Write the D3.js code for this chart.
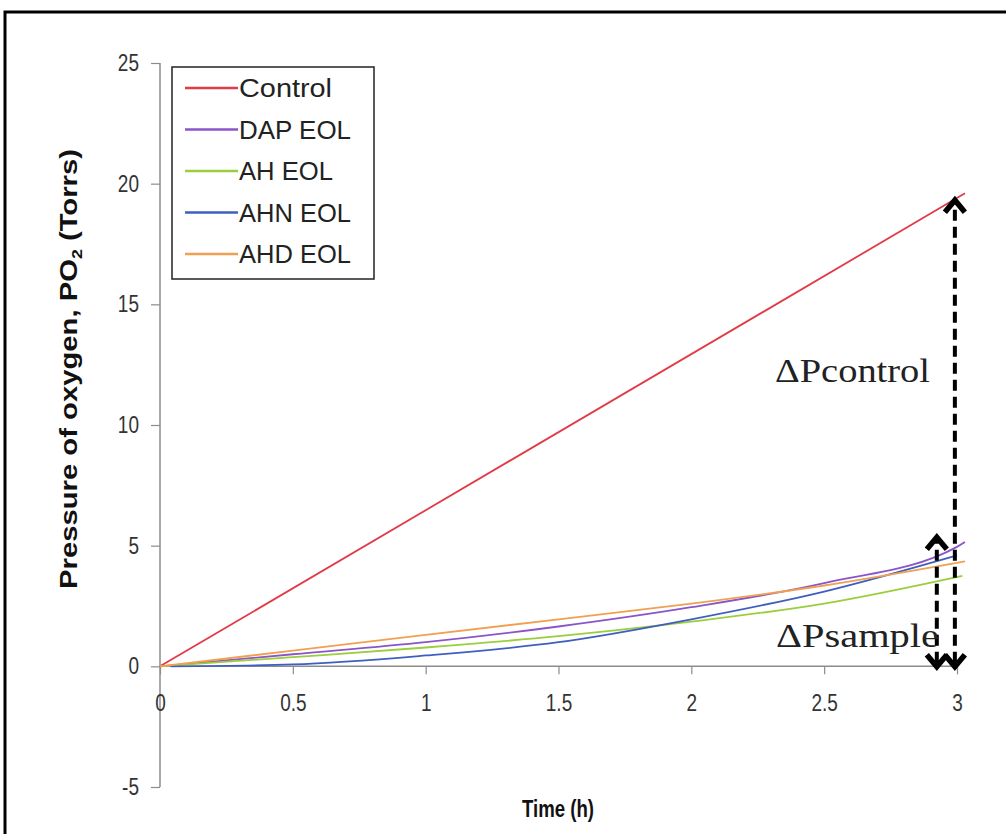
<!DOCTYPE html>
<html><head><meta charset="utf-8">
<script src="https://cdn.jsdelivr.net/npm/d3@7"></script>
<style>body{margin:0;background:#fff}svg{display:block}</style>
</head><body>
<script>
const seriesNames = ["Control","DAP EOL","AH EOL","AHN EOL","AHD EOL"];
const seriesColors = ["#e23b48","#8a55c8","#9ccd3c","#3f5fc0","#f0a050"];
const controlT = [0, 3.03];
const controlV = [0, 19.6];
const dapT = [0, 0.5, 1, 1.5, 2, 2.5, 3, 3.03];
const dapV = [0, 0.5, 1.0, 1.65, 2.45, 3.45, 4.95, 5.15];
const ahT = [0, 0.5, 1, 1.5, 2, 2.5, 3.02];
const ahV = [0, 0.38, 0.78, 1.25, 1.85, 2.6, 3.75];
const ahnT = [0.04, 0.5, 1, 1.5, 2, 2.5, 3.0];
const ahnV = [0, 0.08, 0.45, 1.0, 1.95, 3.1, 4.6];
const ahdT = [0, 0.5, 1, 1.5, 2, 2.5, 3.03];
const ahdV = [0, 0.65, 1.3, 1.95, 2.6, 3.35, 4.35];
const xTicks = [0, 0.5, 1, 1.5, 2, 2.5, 3];
const yTicks = [-5, 0, 5, 10, 15, 20, 25];
// annotation arrows: [time, from, to]
const arrowControl = [2.992, -0.1, 19.4];
const arrowSample = [2.924, -0.1, 5.43];

const allT = [controlT, dapT, ahT, ahnT, ahdT];
const allV = [controlV, dapV, ahV, ahnV, ahdV];

const W = 1006, H = 834;
const svg = d3.select("body").append("svg").attr("width", W).attr("height", H);
svg.append("rect").attr("x",5).attr("y",12).attr("width",1020).attr("height",840)
  .attr("fill","none").attr("stroke","#000").attr("stroke-width",3);

const x = d3.scaleLinear().domain([0,3]).range([160,957]);
const y = d3.scaleLinear().domain([-5,25]).range([787,63]);

const axisColor = "#8c8c8c";
const font = "Arial, 'Liberation Sans', sans-serif";

// y axis
const gy = svg.append("g").attr("transform",`translate(${x(0)},0)`)
  .call(d3.axisLeft(y).tickValues(yTicks).tickSize(9).tickPadding(12).tickFormat(d => String(d)));
// x axis
const gx = svg.append("g").attr("transform",`translate(0,${y(0)})`)
  .call(d3.axisBottom(x).tickValues(xTicks).tickSize(8).tickPadding(20).tickFormat(d => String(d)));
[gx, gy].forEach(g => {
  g.select(".domain").attr("stroke",axisColor).attr("stroke-width",1.5);
  g.selectAll(".tick line").attr("stroke",axisColor).attr("stroke-width",1.2);
  g.selectAll(".tick text").attr("fill","#333").style("font-family",font).style("font-size","20px")
    .each(function(){
      const L = this.getComputedTextLength();
      d3.select(this).style("font-size","23px").attr("textLength",L*0.95).attr("lengthAdjust","spacingAndGlyphs");
    });
});
gy.select(".domain").attr("d", `M-0,${y(-5)}V${y(25)}`);
gx.select(".domain").attr("d", `M${x(0)},0H${x(3)}`);

// lines
const line = d3.line().x(d => x(d[0])).y(d => y(d[1]));
allT.forEach((ts, i) => {
  const pts = ts.map((t, j) => [t, allV[i][j]]);
  svg.append("path").datum(pts).attr("d", line.curve(i===0? d3.curveLinear : d3.curveMonotoneX))
    .attr("fill","none").attr("stroke",seriesColors[i]).attr("stroke-width",1.8);
});

// legend
const lg = svg.append("g");
lg.append("rect").attr("x",172).attr("y",67).attr("width",202).attr("height",212)
  .attr("fill","#fff").attr("stroke","#222").attr("stroke-width",1.5);
const legendLens = [93, 112, 94, 112, 112];
seriesNames.forEach((n, i) => {
  const yy = 88 + i*41.5;
  lg.append("line").attr("x1",185).attr("x2",238).attr("y1",yy).attr("y2",yy)
    .attr("stroke",seriesColors[i]).attr("stroke-width",2.5);
  lg.append("text").attr("x",239).attr("y",yy+9).text(n)
    .style("font-family",font).style("font-size","25px").attr("fill","#222")
    .attr("textLength",legendLens[i]).attr("lengthAdjust","spacingAndGlyphs");
});

// axis titles
svg.append("text").attr("x",558).attr("y",817).attr("text-anchor","middle")
  .style("font-family",font).style("font-size","24px").style("font-weight","bold").attr("fill","#111")
  .attr("textLength",72).attr("lengthAdjust","spacingAndGlyphs")
  .text("Time (h)");
const yl = svg.append("text").attr("transform","translate(77,369) rotate(-90)").attr("text-anchor","middle")
  .style("font-family",font).style("font-size","23px").style("font-weight","bold").attr("fill","#111")
  .attr("textLength",440).attr("lengthAdjust","spacingAndGlyphs");
yl.append("tspan").text("Pressure of oxygen, PO");
yl.append("tspan").attr("dy",5).style("font-size","14px").text("2");
yl.append("tspan").attr("dy",-5).text(" (Torrs)");

// arrows
function arrow(a) {
  const ax = x(a[0]), y0 = y(a[1]), y1 = y(a[2]);
  svg.append("line").attr("x1",ax).attr("x2",ax).attr("y1",y0-6).attr("y2",y1+6)
    .attr("stroke","#000").attr("stroke-width",4).attr("stroke-dasharray","11,6");
  svg.append("path").attr("d",`M${ax-10},${y1+14}L${ax},${y1+2}L${ax+10},${y1+14}`)
    .attr("fill","none").attr("stroke","#000").attr("stroke-width",5.5);
  svg.append("path").attr("d",`M${ax-10},${y0-14}L${ax},${y0-2}L${ax+10},${y0-14}`)
    .attr("fill","none").attr("stroke","#000").attr("stroke-width",5.5);
}
arrow(arrowControl);
arrow(arrowSample);

svg.append("text").attr("x",775).attr("y",382).text("\u0394Pcontrol")
  .style("font-family","'Liberation Serif','Times New Roman',serif").style("font-size","34px").attr("fill","#222")
  .attr("textLength",155).attr("lengthAdjust","spacingAndGlyphs");
svg.append("text").attr("x",776).attr("y",647).text("\u0394Psample")
  .style("font-family","'Liberation Serif','Times New Roman',serif").style("font-size","34px").attr("fill","#222")
  .attr("textLength",163).attr("lengthAdjust","spacingAndGlyphs");
</script>
</body></html>
